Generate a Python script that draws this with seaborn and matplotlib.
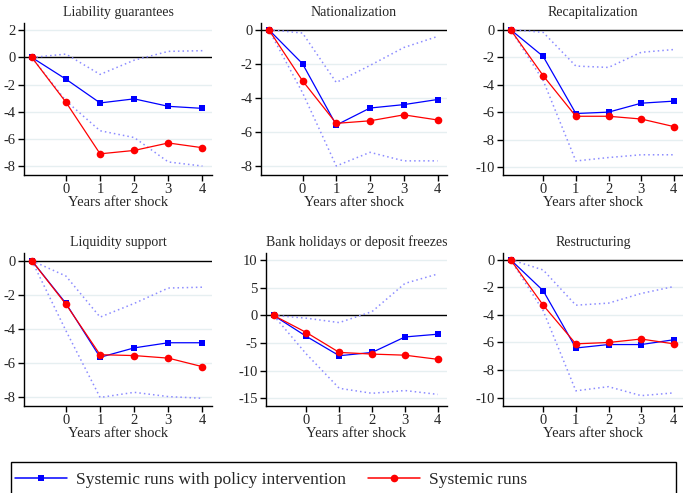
import numpy as np
import pandas as pd
import matplotlib
matplotlib.use("Agg")
import matplotlib.pyplot as plt
import seaborn as sns
from matplotlib.lines import Line2D
from matplotlib.patches import Rectangle

sns.set_theme(style="white")
plt.rcParams['font.family'] = ['Liberation Serif', 'DejaVu Serif']

years = [-1, 0, 1, 2, 3, 4]
xticks = [0, 1, 2, 3, 4]
titles = ["Liability guarantees", "Nationalization", "Recapitalization",
          "Liquidity support", "Bank holidays or deposit freezes", "Restructuring"]

policy = [
    [0, -1.6, -3.35, -3.05, -3.6, -3.75],
    [0, -2.0, -5.6, -4.6, -4.4, -4.1],
    [0, -1.95, -6.1, -6.0, -5.35, -5.2],
    [0, -2.5, -5.65, -5.1, -4.8, -4.8],
    [0, -3.8, -7.3, -6.7, -3.9, -3.4],
    [0, -2.25, -6.4, -6.15, -6.15, -5.8],
]
runs = [
    [0, -3.3, -7.1, -6.85, -6.3, -6.65],
    [0, -3.0, -5.5, -5.35, -5.0, -5.3],
    [0, -3.35, -6.3, -6.3, -6.5, -7.05],
    [0, -2.55, -5.5, -5.55, -5.7, -6.2],
    [0, -3.1, -6.7, -7.0, -7.2, -7.95],
    [0, -3.3, -6.1, -6.0, -5.75, -6.1],
]
upper = [
    [0, 0.25, -1.25, -0.2, 0.45, 0.5],
    [0, -0.2, -3.1, -2.1, -1.05, -0.4],
    [0, -0.2, -2.65, -2.75, -1.65, -1.45],
    [0, -0.9, -3.3, -2.5, -1.6, -1.55],
    [0, -0.5, -1.3, 0.7, 5.8, 7.5],
    [0, -0.75, -3.3, -3.15, -2.45, -1.95],
]
lower = [
    [0, -3.2, -5.4, -5.9, -7.7, -8.0],
    [0, -3.7, -8.0, -7.2, -7.7, -7.7],
    [0, -3.7, -9.55, -9.3, -9.1, -9.1],
    [0, -4.1, -8.0, -7.7, -7.95, -8.05],
    [0, -7.0, -13.2, -14.1, -13.6, -14.3],
    [0, -3.7, -9.5, -9.2, -9.85, -9.65],
]
yticks = [
    [2, 0, -2, -4, -6, -8],
    [0, -2, -4, -6, -8],
    [0, -2, -4, -6, -8, -10],
    [0, -2, -4, -6, -8],
    [10, 5, 0, -5, -10, -15],
    [0, -2, -4, -6, -8, -10],
]
ylims = [(-8.66, 2.54), (-8.53, 0.39), (-10.57, 0.48),
         (-8.5, 0.45), (-16.4, 11.3), (-10.6, 0.48)]
legend_labels = ["Systemic runs with policy intervention", "Systemic runs"]

W, H = 683, 493
fig = plt.figure(figsize=(W / 100, H / 100), dpi=100)

boxes = [
    (24, 23, 212, 175), (261, 23, 447, 175), (503, 23, 683, 175),
    (24, 253, 212, 406), (266, 253, 447, 406), (503, 253, 683, 406),
]

ci_color = "#8c8cff"
grid_color = "#e6eff1"

for i, (l, t, r, b) in enumerate(boxes):
    ax = fig.add_axes([l / W, 1 - b / H, (r - l) / W, (b - t) / H])
    ax.set_xlim(-1.23, 4.28)
    ax.set_ylim(*ylims[i])
    for yt in yticks[i]:
        if yt != 0:
            ax.axhline(yt, color=grid_color, lw=1.0, zorder=0)
    ax.axhline(0, color="black", lw=1.0, zorder=1)
    df = pd.DataFrame({"x": years, "pol": policy[i], "run": runs[i],
                       "up": upper[i], "lo": lower[i]})
    sns.lineplot(data=df, x="x", y="up", ax=ax, color=ci_color, lw=1.1,
                 linestyle=(0, (1, 2)), zorder=2)
    sns.lineplot(data=df, x="x", y="lo", ax=ax, color=ci_color, lw=1.1,
                 linestyle=(0, (1, 2)), zorder=2)
    sns.lineplot(data=df, x="x", y="pol", ax=ax, color="blue", lw=0.9,
                 marker="s", markersize=4, markeredgewidth=0, zorder=3)
    sns.lineplot(data=df, x="x", y="run", ax=ax, color="red", lw=0.9,
                 marker="o", markersize=5.5, markeredgewidth=0, zorder=4)
    ax.set_xticks(xticks)
    ax.set_yticks(yticks[i])
    ax.set_yticklabels([str(v) for v in yticks[i]])
    ax.tick_params(axis="both", which="both", length=4, width=1, color="black",
                   labelsize=10.5, pad=2, direction="out")
    ax.tick_params(left=True, bottom=True)
    for s in ["top", "right"]:
        ax.spines[s].set_visible(False)
    for s in ["left", "bottom"]:
        ax.spines[s].set_color("black")
        ax.spines[s].set_linewidth(1.0)
    ax.set_xlabel("Years after shock", fontsize=10.5, labelpad=0)
    ax.set_ylabel("")
    ax.set_title(titles[i], fontsize=10, pad=5)
    ax.set_facecolor("white")
    ax.grid(False)

handles = [
    Line2D([], [], color="blue", lw=1.1, marker="s", markersize=4.5, markeredgewidth=0),
    Line2D([], [], color="red", lw=1.1, marker="o", markersize=5.5, markeredgewidth=0),
]
fig.legend(handles, legend_labels, loc="center left",
           bbox_to_anchor=(15 / W, 1 - 480 / H), ncol=2, frameon=False,
           fontsize=12.5, handlelength=3.0, handletextpad=0.5, columnspacing=1.3,
           borderaxespad=0, borderpad=0)
fig.patches.append(Rectangle((11 / W, -0.02), 665 / W, 1 - 462 / H + 0.02,
                             transform=fig.transFigure, fill=False,
                             edgecolor="black", lw=1.0))

fig.savefig("out.png", dpi=100, facecolor="white")
